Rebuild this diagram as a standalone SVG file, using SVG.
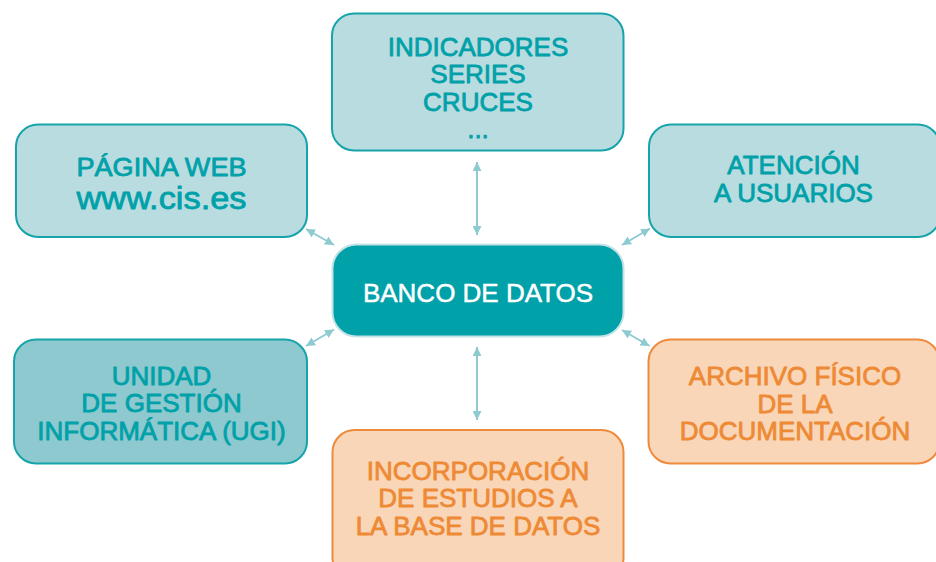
<svg xmlns="http://www.w3.org/2000/svg" width="936" height="562" viewBox="0 0 936 562">
<style>
.box{stroke-width:2}
.lt{fill:#b9dce0;stroke:#17a3aa}
.dk{fill:#8dc9ce;stroke:#17a3aa}
.or{fill:#f9d6b7;stroke:#ee8a3b}
.ctr{fill:#00a1a9;stroke:#c3e3e6}
text{font-family:"Liberation Sans",Arial,sans-serif;font-size:26px;text-anchor:middle;stroke-width:0.8;stroke-linejoin:round}
.tt{fill:#00a1a9;stroke:#00a1a9}
.to{fill:#ee8a35;stroke:#ee8a35}
.tw{fill:#ffffff;stroke:#ffffff;stroke-width:0.5}
.conn line{stroke:#8ecbd1;stroke-width:2;marker-start:url(#ah);marker-end:url(#ah)}
</style>
<defs>
<marker id="ah" markerUnits="userSpaceOnUse" markerWidth="9" markerHeight="9" refX="9" refY="4.5" orient="auto-start-reverse" viewBox="0 0 9 9">
<path d="M0,0 L9,4.5 L0,9 z" fill="#8ecbd1"/>
</marker>
</defs>
<rect width="936" height="562" fill="#ffffff"/>
<g class="conn" id="connectors">
<line x1="477" y1="162" x2="477" y2="235"/>
<line x1="477" y1="347" x2="477" y2="420"/>
<line x1="306" y1="229" x2="334" y2="245"/>
<line x1="650" y1="228.5" x2="622" y2="245"/>
<line x1="306" y1="346" x2="334" y2="329.5"/>
<line x1="649.5" y1="346" x2="622" y2="330"/>
</g>
<g id="n-indicadores">
<rect class="box lt" x="332" y="13.5" width="291.5" height="137" rx="22"/>
<text class="tt" x="478" y="55.5">INDICADORES</text>
<text class="tt" x="478" y="83">SERIES</text>
<text class="tt" x="478" y="110.5">CRUCES</text>
<text class="tt" x="478" y="138">...</text>
</g>
<g id="n-pagina">
<rect class="box lt" x="16" y="124.5" width="291" height="112.5" rx="22"/>
<text class="tt" x="161.5" y="176" textLength="170" lengthAdjust="spacingAndGlyphs">PÁGINA WEB</text>
<text class="tt" x="161.5" y="208.5" style="font-size:31px" textLength="170" lengthAdjust="spacingAndGlyphs">www.cis.es</text>
</g>
<g id="n-atencion">
<rect class="box lt" x="649" y="124.5" width="291" height="112.5" rx="22"/>
<text class="tt" x="793.5" y="174">ATENCIÓN</text>
<text class="tt" x="793.5" y="202">A USUARIOS</text>
</g>
<g id="n-banco">
<rect class="box ctr" x="332.5" y="244.5" width="291" height="92" rx="24"/>
<text class="tw" x="478" y="301.5">BANCO DE DATOS</text>
</g>
<g id="n-ugi">
<rect class="box dk" x="14" y="339.5" width="293" height="124" rx="22"/>
<text class="tt" x="161.5" y="384.5">UNIDAD</text>
<text class="tt" x="161.5" y="412">DE GESTIÓN</text>
<text class="tt" x="161.5" y="440">INFORMÁTICA (UGI)</text>
</g>
<g id="n-archivo">
<rect class="box or" x="648.5" y="339.5" width="291" height="124" rx="22"/>
<text class="to" x="795" y="385">ARCHIVO FÍSICO</text>
<text class="to" x="795" y="412.5">DE LA</text>
<text class="to" x="795" y="440">DOCUMENTACIÓN</text>
</g>
<g id="n-incorporacion">
<rect class="box or" x="332.5" y="430" width="291" height="150" rx="22"/>
<text class="to" x="478" y="479.5">INCORPORACIÓN</text>
<text class="to" x="478" y="507">DE ESTUDIOS A</text>
<text class="to" x="478" y="534.5">LA BASE DE DATOS</text>
</g>
</svg>
